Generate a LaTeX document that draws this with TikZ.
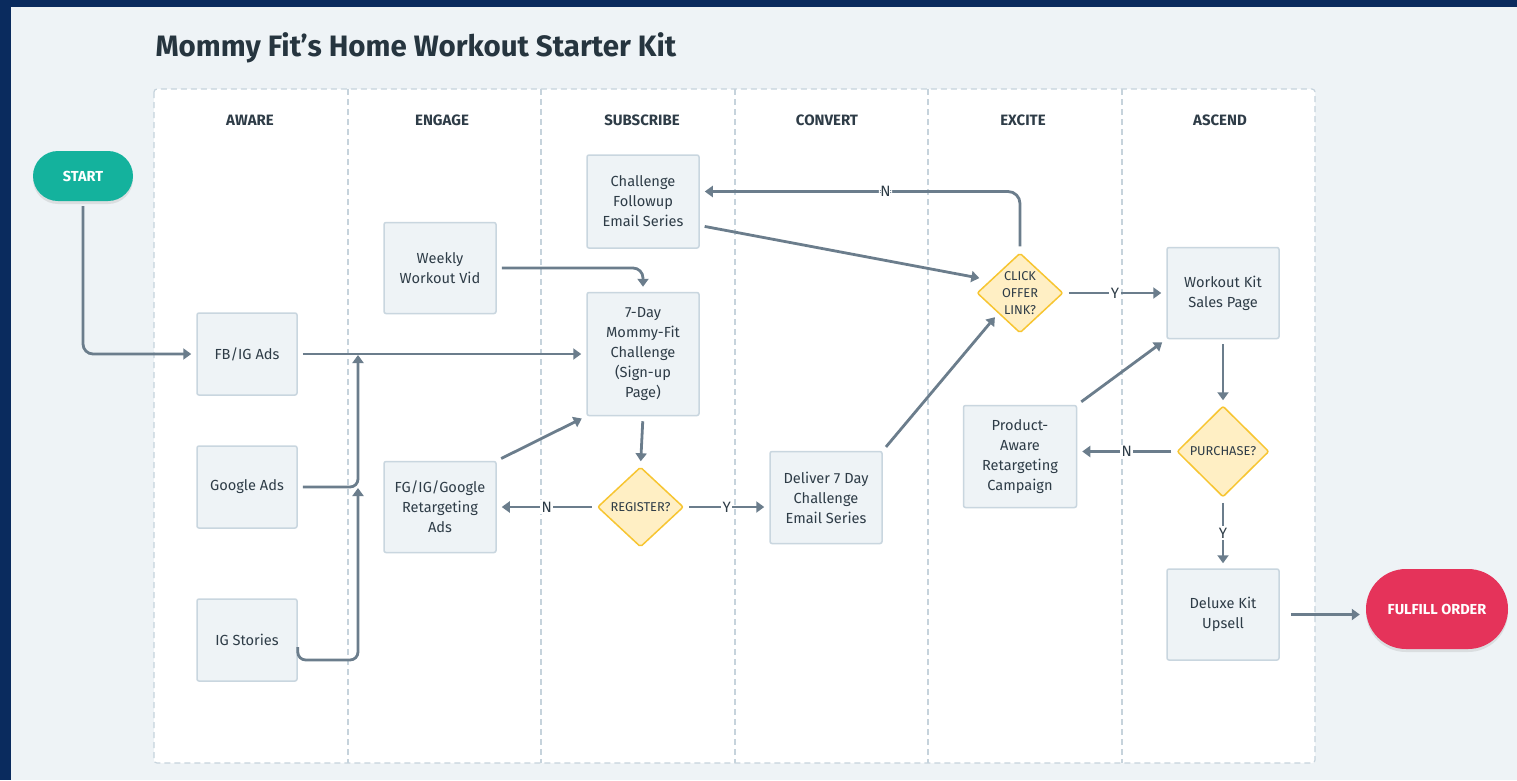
\documentclass[tikz,border=0pt]{standalone}
\usepackage{fontspec}
\setmainfont{Fira Sans}
\usetikzlibrary{shapes.geometric,arrows.meta,shadows,calc}
\definecolor{navy}{HTML}{0A2B5E}
\definecolor{bgc}{HTML}{EEF3F6}
\definecolor{lanebd}{HTML}{C6D3DC}
\definecolor{boxfill}{HTML}{EEF3F6}
\definecolor{boxbd}{HTML}{C9D6DF}
\definecolor{txt}{HTML}{2E3C47}
\definecolor{titlec}{HTML}{26353F}
\definecolor{connc}{HTML}{6B7D8C}
\definecolor{dfill}{HTML}{FFEFC4}
\definecolor{dbd}{HTML}{F7C531}
\definecolor{tealc}{HTML}{14B29D}
\definecolor{redc}{HTML}{E5335A}
\tikzset{
  box/.style={draw=boxbd, fill=boxfill, line width=1.5pt, rounded corners=2pt,
    minimum width=112pt, minimum height=92pt, align=center, text=txt,
    font=\fontsize{14.6}{20}\selectfont, inner sep=0pt},
  adbox/.style={box, minimum width=100pt, minimum height=82pt},
  dec/.style={diamond, draw=dbd, fill=dfill, line width=1.5pt, rounded corners=2pt,
    minimum width=86pt, minimum height=80pt, inner sep=0pt, align=center, text=txt,
    font=\fontsize{12.8}{17}\selectfont},
  term/.style={text=white, align=center, inner sep=0pt,
    font=\bfseries\fontsize{14.5}{14.5}\selectfont,
    drop shadow={opacity=0.18, shadow xshift=0pt, shadow yshift=-3pt}},
  conn/.style={draw=connc, line width=2.8pt, -{Triangle[length=8pt,width=11pt]},
    shorten <=5pt, shorten >=5pt},
  lbl/.style={fill=white, text=txt, font=\fontsize{15}{15}\selectfont, inner sep=1.5pt},
  lanehead/.style={text=txt, font=\bfseries\fontsize{15}{15}\selectfont},
  lanedash/.style={draw=lanebd, line width=1.2pt, dash pattern=on 6pt off 4pt},
}
\begin{document}
\begin{tikzpicture}[x=1pt,y=-1pt]
\useasboundingbox (0,0) rectangle (1517,780);
\fill[navy] (0,0) rectangle (1517,780);
\fill[bgc] (11,7) rectangle (1517,780);
\filldraw[fill=white, lanedash, rounded corners=3pt] (154,89) rectangle (1315,763);
\foreach \x in {348,541,735,928,1122} \draw[lanedash] (\x,89) -- (\x,763);

\node[anchor=west, text=titlec, font=\bfseries\fontsize{29.5}{29.5}\selectfont] (title) at (152,48) {Mommy Fit’s Home Workout Starter Kit};

\node[lanehead] (h1) at (250,120) {AWARE};
\node[lanehead] (h2) at (442,120) {ENGAGE};
\node[lanehead] (h3) at (642,120) {SUBSCRIBE};
\node[lanehead] (h4) at (827,120) {CONVERT};
\node[lanehead] (h5) at (1023,120) {EXCITE};
\node[lanehead] (h6) at (1220,120) {ASCEND};

\node[term, fill=tealc, minimum width=100pt, minimum height=50pt, rounded corners=25pt] (start) at (83,176) {START};
\node[adbox] (fb) at (247,354) {FB/IG Ads};
\node[adbox] (goog) at (247,487) {Google Ads};
\node[adbox] (igs) at (247,640) {IG Stories};
\node[box, minimum height=91pt] (wv) at (440,268) {Weekly\\Workout Vid};
\node[box, minimum height=91pt] (fg) at (440,507) {FG/IG/Google\\Retargeting\\Ads};
\node[box, minimum height=93pt] (cf) at (643,201.5) {Challenge\\Followup\\Email Series};
\node[box, minimum height=123pt] (sp) at (643,354) {7-Day\\Mommy-Fit\\Challenge\\(Sign-up\\Page)};
\node[dec] (reg) at (640.5,507) {REGISTER?};
\node[box] (del) at (826,497.5) {Deliver 7 Day\\Challenge\\Email Series};
\node[dec] (click) at (1020,293) {CLICK\\OFFER\\LINK?};
\node[box, minimum height=91pt] (sales) at (1223,293) {Workout Kit\\Sales Page};
\node[box, minimum width=113pt, minimum height=102pt] (pa) at (1020,456.5) {Product-\\Aware\\Retargeting\\Campaign};
\node[dec, minimum width=92pt, minimum height=91pt] (pur) at (1223,451.5) {PURCHASE?};
\node[box, minimum height=91pt] (dlx) at (1223,614.5) {Deluxe Kit\\Upsell};
\node[term, fill=redc, minimum width=142pt, minimum height=80pt, rounded corners=40pt] (ful) at (1437,609) {FULFILL ORDER};

\coordinate (j1) at (358,354);
\coordinate (j2) at (358,487);
\coordinate (j3) at (358,660);

\draw[conn, rounded corners=10pt] (start.south) |- (fb.west);
\draw[conn] (fb.east) -- (sp.west);
\draw[conn, rounded corners=8pt, shorten >=1pt] (goog.east) -| (j1);
\draw[conn, rounded corners=8pt, shorten <=0pt, shorten >=1pt] ([yshift=-7pt]igs.east) |- (j3) -- (j2);
\draw[conn, rounded corners=10pt] (wv.east) -| (sp.north);
\draw[conn] (fg.north east) -- (sp.south west);
\draw[conn] (sp.south) -- (reg.north);
\draw[conn] (reg.west) -- node[lbl]{N} (fg.east);
\draw[conn] (reg.east) -- node[lbl]{Y} (reg.east -| del.west);
\draw[conn] (del.north east) -- (click.south west);
\draw[conn] ([yshift=-24pt]cf.east) -- ([shift={(8,-14)}]click.west);
\draw[conn, rounded corners=12pt, shorten <=6pt] (click.north) |- node[lbl, pos=0.71]{N} ([yshift=10pt]cf.east);
\draw[conn] (click.east) -- node[lbl]{Y} (sales.west);
\draw[conn] (pa.north east) -- (sales.south west);
\draw[conn] (sales.south) -- (pur.north);
\draw[conn] (pur.west) -- node[lbl]{N} (pur.west -| pa.east);
\draw[conn] (pur.south) -- node[lbl]{Y} (dlx.north);
\draw[conn, shorten <=11pt, shorten >=6pt] (dlx.east) -- (dlx.east -| ful.west);
\end{tikzpicture}
\end{document}
